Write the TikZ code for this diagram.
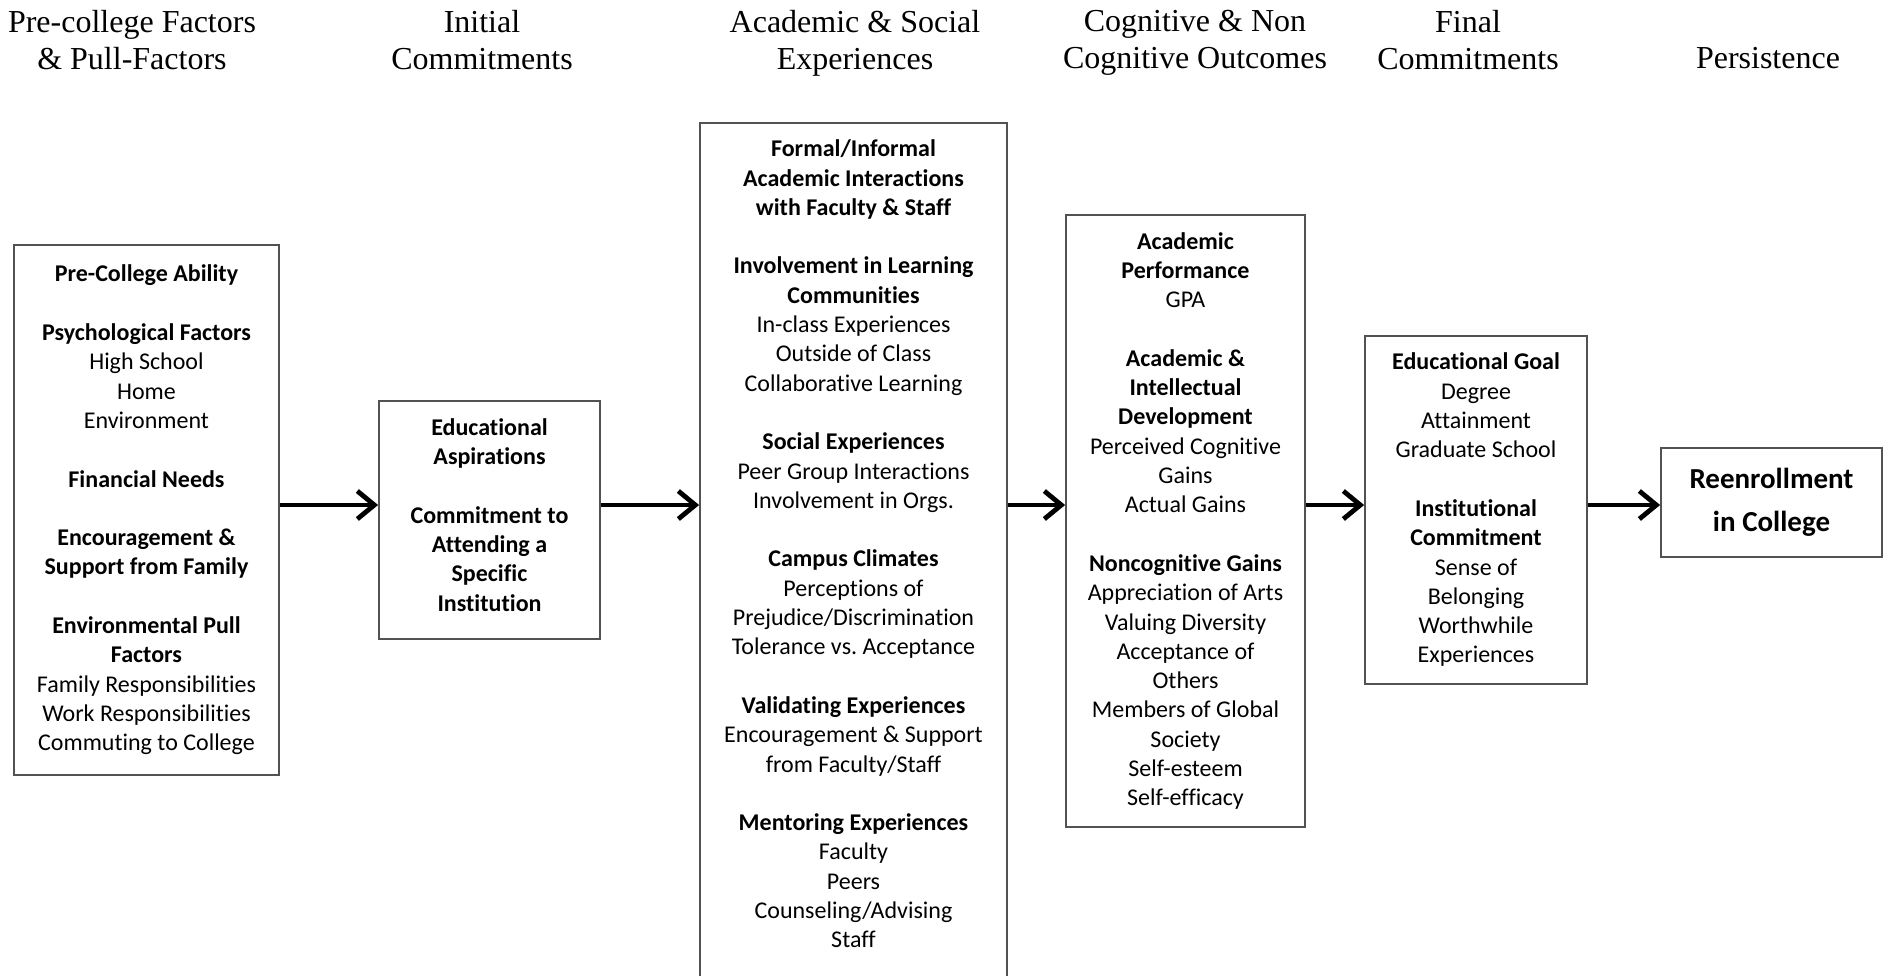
\documentclass[tikz,border=0pt]{standalone}
\usepackage{fontspec}
\setmainfont{Liberation Serif}
\newfontfamily\calibri[Ligatures={NoCommon}]{Carlito}
\usetikzlibrary{arrows.meta}
\frenchspacing
\begin{document}
\begin{tikzpicture}[x=1pt,y=-1pt,
  hdr/.style={font=\fontsize{32}{37}\selectfont, align=center, inner sep=0pt, anchor=north},
  box/.style={draw=black!68, line width=1.8pt, inner sep=0pt, align=center,
    font=\calibri\fontsize{24}{29.3}\selectfont},
  txt/.style={inner sep=0pt, align=center, font=\calibri\fontsize{24}{29.3}\selectfont},
  arr/.style={line width=4.8pt, -{Straight Barb[length=17pt,width=28pt]}}]
\useasboundingbox (0,0) rectangle (1887,975);

% headers
\node[hdr] (h1) at (132,10) {Pre-college Factors\\\& Pull-Factors};
\node[hdr] (h2) at (482,10) {Initial\\Commitments};
\node[hdr] (h3) at (855,10) {Academic \& Social\\Experiences};
\node[hdr] (h4) at (1195,10) {Cognitive \& Non\\Cognitive Outcomes};
\node[hdr] (h5) at (1468,10) {Final\\Commitments};
\node[hdr] (h6) at (1768,47) {Persistence};

% boxes
\node[box, minimum width=265pt, minimum height=530pt] (b1) at (146.5,510) {%
\textbf{Pre-College Ability}\\[29.3pt]
\textbf{Psychological Factors}\\
High School\\
Home\\
Environment\\[29.3pt]
\textbf{Financial Needs}\\[29.3pt]
\textbf{Encouragement \&}\\
\textbf{Support from Family}\\[29.3pt]
\textbf{Environmental Pull}\\
\textbf{Factors}\\
Family Responsibilities\\
Work Responsibilities\\
Commuting to College};

\node[box, minimum width=221pt, minimum height=238pt] (b2) at (489.5,520) {};
\node[txt] (b2t) at (489.5,515) {%
\textbf{Educational}\\
\textbf{Aspirations}\\[29.3pt]
\textbf{Commitment to}\\
\textbf{Attending a}\\
\textbf{Specific}\\
\textbf{Institution}};

\node[box, minimum width=307pt, minimum height=874pt] (b3) at (853.5,560) {};
\node[txt] (b3t) at (853.5,544) {%
\textbf{Formal/Informal}\\
\textbf{Academic Interactions}\\
\textbf{with Faculty \& Staff}\\[29.3pt]
\textbf{Involvement in Learning}\\
\textbf{Communities}\\
In-class Experiences\\
Outside of Class\\
Collaborative Learning\\[29.3pt]
\textbf{Social Experiences}\\
Peer Group Interactions\\
Involvement in Orgs.\\[29.3pt]
\textbf{Campus Climates}\\
Perceptions of\\
Prejudice/Discrimination\\
Tolerance vs. Acceptance\\[29.3pt]
\textbf{Validating Experiences}\\
Encouragement \& Support\\
from Faculty/Staff\\[29.3pt]
\textbf{Mentoring Experiences}\\
Faculty\\
Peers\\
Counseling/Advising\\
Staff};

\node[box, minimum width=239pt, minimum height=612pt] (b4) at (1185.5,521) {%
\textbf{Academic}\\
\textbf{Performance}\\
GPA\\[29.3pt]
\textbf{Academic \&}\\
\textbf{Intellectual}\\
\textbf{Development}\\
Perceived Cognitive\\
Gains\\
Actual Gains\\[29.3pt]
\textbf{Noncognitive Gains}\\
Appreciation of Arts\\
Valuing Diversity\\
Acceptance of\\
Others\\
Members of Global\\
Society\\
Self-esteem\\
Self-efficacy};

\node[box, minimum width=222pt, minimum height=348pt] (b5) at (1476,510) {%
\textbf{Educational Goal}\\
Degree\\
Attainment\\
Graduate School\\[29.3pt]
\textbf{Institutional}\\
\textbf{Commitment}\\
Sense of\\
Belonging\\
Worthwhile\\
Experiences};

\node[box, minimum width=221pt, minimum height=109pt,
  font=\calibri\bfseries\fontsize{29}{43}\selectfont] (b6) at (1771.5,502.5) {%
Reenrollment\\in College};

% arrows
\coordinate (ay) at (0,505);
\draw[arr] (b1.east |- ay) -- (b2.west |- ay);
\draw[arr] (b2.east |- ay) -- (b3.west |- ay);
\draw[arr] (b3.east |- ay) -- (b4.west |- ay);
\draw[arr] (b4.east |- ay) -- (b5.west |- ay);
\draw[arr] (b5.east |- ay) -- (b6.west |- ay);
\end{tikzpicture}
\end{document}
